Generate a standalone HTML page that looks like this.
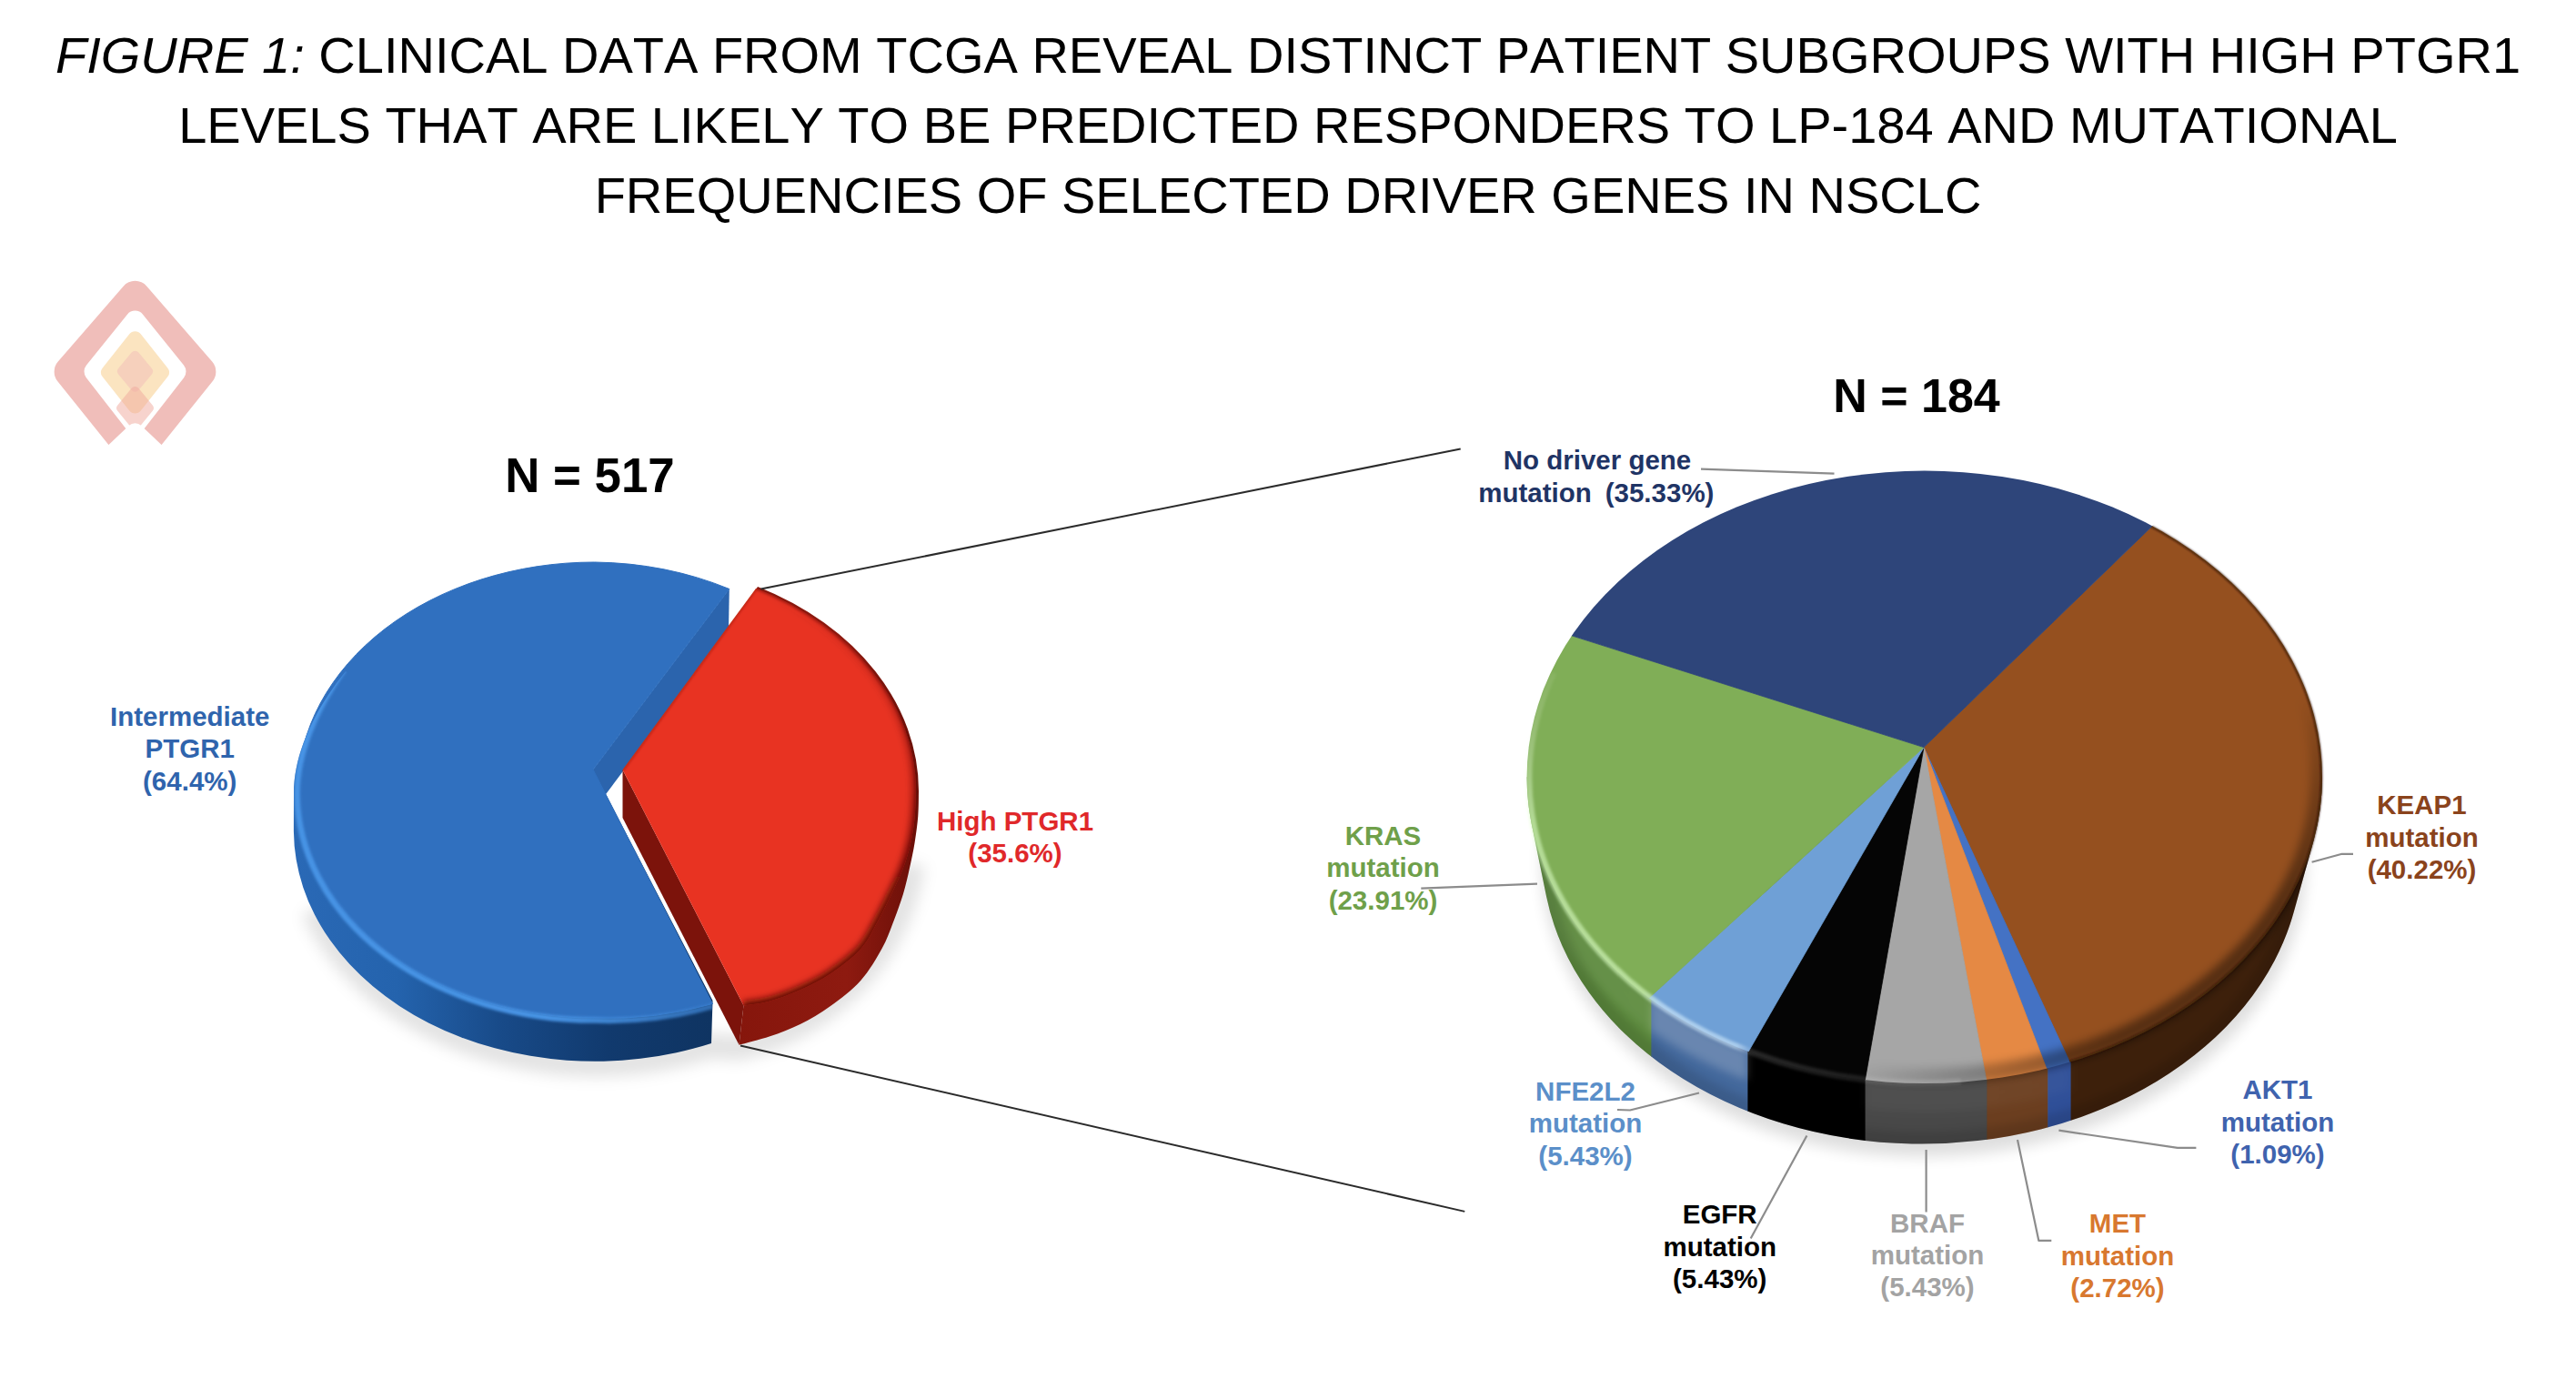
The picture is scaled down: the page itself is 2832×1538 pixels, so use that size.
<!DOCTYPE html>
<html lang="en">
<head>
<meta charset="utf-8">
<title>Figure 1</title>
<style>
html,body{margin:0;padding:0;background:#fff;}
body{width:2832px;height:1538px;position:relative;overflow:hidden;font-family:"Liberation Sans", sans-serif;}
.title{position:absolute;left:0;top:21.7px;width:2832px;text-align:center;font-size:56px;line-height:77.3px;color:#000;white-space:nowrap;font-kerning:none;}
svg{position:absolute;left:0;top:0;}
svg text{font-family:"Liberation Sans", sans-serif;}
</style>
</head>
<body>
<div class="title"><div><i>FIGURE 1:</i> CLINICAL DATA FROM TCGA REVEAL DISTINCT PATIENT SUBGROUPS WITH HIGH PTGR1</div><div>LEVELS THAT ARE LIKELY TO BE PREDICTED RESPONDERS TO LP-184 AND MUTATIONAL</div><div>FREQUENCIES OF SELECTED DRIVER GENES IN NSCLC</div></div>
<svg width="2832" height="1538" viewBox="0 0 2832 1538">
<defs>
<filter id="blur14" x="-20%" y="-20%" width="140%" height="140%"><feGaussianBlur stdDeviation="14"/></filter>
<filter id="blur3" x="-10%" y="-10%" width="120%" height="120%"><feGaussianBlur stdDeviation="3"/></filter>
<filter id="blur8" x="-20%" y="-20%" width="140%" height="140%"><feGaussianBlur stdDeviation="8"/></filter>
<filter id="blur1" x="-10%" y="-10%" width="120%" height="120%"><feGaussianBlur stdDeviation="0.8"/></filter>
<filter id="blur5" x="-10%" y="-10%" width="120%" height="120%"><feGaussianBlur stdDeviation="5"/></filter>
<filter id="blur2" x="-10%" y="-10%" width="120%" height="120%"><feGaussianBlur stdDeviation="1.6"/></filter>
<linearGradient id="gBlueWall" gradientUnits="userSpaceOnUse" x1="322" y1="0" x2="782" y2="0">
  <stop offset="0" stop-color="#2a69b6"/>
  <stop offset="0.25" stop-color="#2463ad"/>
  <stop offset="0.5" stop-color="#184a88"/>
  <stop offset="0.75" stop-color="#113a6e"/>
  <stop offset="1" stop-color="#0f3462"/>
</linearGradient>
<linearGradient id="gBlueRim" gradientUnits="userSpaceOnUse" x1="322" y1="0" x2="782" y2="0">
  <stop offset="0" stop-color="#4a98ea" stop-opacity="0.9"/>
  <stop offset="0.6" stop-color="#4a98ea" stop-opacity="0.95"/>
  <stop offset="1" stop-color="#3f86d6" stop-opacity="0.7"/>
</linearGradient>
<linearGradient id="gRedRim" gradientUnits="userSpaceOnUse" x1="0" y1="650" x2="0" y2="1000">
  <stop offset="0" stop-color="#5a0a05" stop-opacity="0"/>
  <stop offset="0.5" stop-color="#5a0a05" stop-opacity="0.35"/>
  <stop offset="1" stop-color="#5a0a05" stop-opacity="0.75"/>
</linearGradient>
<linearGradient id="gRedWall" gradientUnits="userSpaceOnUse" x1="812" y1="0" x2="1010" y2="0">
  <stop offset="0" stop-color="#86160c"/>
  <stop offset="0.6" stop-color="#8e1a10"/>
  <stop offset="1" stop-color="#6a0f08"/>
</linearGradient>
<linearGradient id="gWallShade" gradientUnits="userSpaceOnUse" x1="1678" y1="0" x2="2553" y2="0">
  <stop offset="0" stop-color="#fff" stop-opacity="0.05"/>
  <stop offset="0.157" stop-color="#fff" stop-opacity="0.06"/>
  <stop offset="0.157" stop-color="#fff" stop-opacity="0.20"/>
  <stop offset="0.278" stop-color="#fff" stop-opacity="0.20"/>
  <stop offset="0.278" stop-color="#fff" stop-opacity="0"/>
  <stop offset="0.4258" stop-color="#fff" stop-opacity="0"/>
  <stop offset="0.4258" stop-color="#fff" stop-opacity="0.04"/>
  <stop offset="0.5787" stop-color="#fff" stop-opacity="0.04"/>
  <stop offset="0.5787" stop-color="#fff" stop-opacity="0.04"/>
  <stop offset="0.684" stop-color="#fff" stop-opacity="0.03"/>
  <stop offset="0.684" stop-color="#fff" stop-opacity="0"/>
  <stop offset="1" stop-color="#fff" stop-opacity="0"/>
</linearGradient>
<linearGradient id="gRimShade" gradientUnits="userSpaceOnUse" x1="2200" y1="1041.7" x2="2302.5" y2="1164.7">
  <stop offset="0" stop-color="#000" stop-opacity="0"/>
  <stop offset="1" stop-color="#000" stop-opacity="0.42"/>
</linearGradient>
<linearGradient id="gRimHi" gradientUnits="userSpaceOnUse" x1="1215" y1="1215" x2="1618" y2="1618">
  <stop offset="0" stop-color="#fff" stop-opacity="0"/>
  <stop offset="0.2" stop-color="#ddffc8" stop-opacity="0.55"/>
  <stop offset="0.58" stop-color="#ddffc8" stop-opacity="0.6"/>
  <stop offset="0.62" stop-color="#d8f0ff" stop-opacity="0.6"/>
  <stop offset="0.78" stop-color="#d8f0ff" stop-opacity="0.55"/>
  <stop offset="0.8" stop-color="#fff" stop-opacity="0.14"/>
  <stop offset="1" stop-color="#fff" stop-opacity="0.10"/>
</linearGradient>
</defs>
<g id="logo"><path d="M63.38,419.36 A17,17 0 0 1 63.79,397.58 L135.65,314.63 A17,17 0 0 1 161.35,314.63 L233.21,397.58 A17,17 0 0 1 233.62,419.36 L161.75,508.80 A17,17 0 0 1 135.25,508.80 Z" fill="#f0beba" /><path d="M94.83,415.17 A11,11 0 0 1 94.95,401.53 L139.93,345.65 A11,11 0 0 1 157.07,345.65 L202.05,401.53 A11,11 0 0 1 202.17,415.17 L157.19,473.11 A11,11 0 0 1 139.81,473.11 Z" fill="#ffffff" /><path d="M112.75,414.37 A8,8 0 0 1 112.75,404.43 L142.23,367.29 A8,8 0 0 1 154.77,367.29 L184.25,404.43 A8,8 0 0 1 184.25,414.37 L154.77,451.51 A8,8 0 0 1 142.23,451.51 Z" fill="#fbe4c0" /><path d="M130.13,411.49 A5,5 0 0 1 130.13,405.11 L144.65,387.56 A5,5 0 0 1 152.35,387.56 L166.87,405.11 A5,5 0 0 1 166.87,411.49 L152.35,429.04 A5,5 0 0 1 144.65,429.04 Z" fill="#f6d0bc" /><path d="M129.30,451.77 A5,5 0 0 1 129.30,445.43 L144.63,426.72 A5,5 0 0 1 152.37,426.72 L167.70,445.43 A5,5 0 0 1 167.70,451.77 L152.37,470.48 A5,5 0 0 1 144.63,470.48 Z" fill="#f0a89c" opacity="0.5"/><path d="M92.77,528.76 A10,10 0 0 1 92.77,514.24 L141.63,468.01 A10,10 0 0 1 155.37,468.01 L204.23,514.24 A10,10 0 0 1 204.23,528.76 L155.37,574.99 A10,10 0 0 1 141.63,574.99 Z" fill="#ffffff" /></g>
<g id="leftpie">
<path d="M345,1000 A331,254 0 0 0 654,1170 A331,254 0 0 0 780,1150 L812,1152 C900,1132 985,1062 1003,950" fill="none" stroke="#000" stroke-opacity="0.11" stroke-width="28" filter="url(#blur8)"/>
<path d="M380,738 C346,780 323,828 323,872 L322.9,914 A331.1,254.4 0 0 0 782,1147 L783.5,1100 L652,846 Z" fill="url(#gBlueWall)"/>
<path d="M652,846 L801.8,647.5 L801,692 L652,892 Z" fill="#2b64ad"/>
<path d="M652,846 L801.8,647.5 A326.1,250.9 0 0 0 653.6,618 A326.1,250.9 0 0 0 327.5,868.9 A326.1,250.2 0 0 0 653.6,1119.1 A326.1,250.2 0 0 0 783.5,1103.5 Z" fill="#3070bf" stroke="#3070bf" stroke-width="1"/>
<clipPath id="cBlueSil"><path d="M380,738 C346,780 323,828 323,872 L322.9,914 A331.1,254.4 0 0 0 782,1147 L783.5,1100 L652,846 Z"/></clipPath>
<g clip-path="url(#cBlueSil)"><path d="M378,736 C347,780 326.5,828 326.5,872 A327.1,250.2 0 0 0 653.6,1121.6 A327.1,252.7 0 0 0 783.5,1106" fill="none" stroke="url(#gBlueRim)" stroke-width="6.5" filter="url(#blur2)"/></g>
<path d="M833,645 A324,252 0 0 1 1010,870 C1009.9,874.5 1010.0,887.7 1009.3,897.0 C1008.6,906.3 1007.2,916.2 1005.7,925.7 C1004.2,935.2 1002.1,944.8 1000.0,954.3 C997.9,963.8 995.8,973.4 992.9,982.9 C990.0,992.4 986.7,1001.5 982.9,1011.4 C979.1,1021.2 976.1,1030.9 970.0,1042.0 C963.9,1053.1 955.7,1067.3 946.2,1078.0 C936.7,1088.7 924.1,1098.0 913.0,1106.0 C901.9,1114.0 890.8,1120.5 879.7,1126.0 C868.6,1131.5 857.7,1135.5 846.5,1139.3 C835.3,1143.1 818.2,1147.2 812.5,1148.8 L817.5,1105 L700,846 Z" fill="url(#gRedWall)"/>
<path d="M684.5,846.3 L817.5,1105.5 L812.5,1148.8 L684.5,899 Z" fill="#7c130b"/>
<clipPath id="cRedTop"><path d="M684.5,846.3 L831.2,646.7 A321,250 0 0 1 1007,868 C1006.8,872.8 1006.6,887.4 1005.7,897.0 C1004.8,906.6 1003.5,916.2 1001.4,925.7 C999.3,935.2 996.5,944.8 992.9,954.3 C989.3,963.8 984.5,973.4 980.0,982.9 C975.5,992.4 971.3,1001.4 965.7,1011.4 C960.1,1021.4 955.3,1033.2 946.5,1043.0 C937.7,1052.8 924.1,1063.0 913.0,1070.5 C901.9,1078.0 890.8,1083.3 879.7,1088.3 C868.6,1093.3 856.9,1097.6 846.5,1100.5 C836.1,1103.4 822.3,1104.7 817.5,1105.5 Z"/></clipPath>
<path d="M684.5,846.3 L831.2,646.7 A321,250 0 0 1 1007,868 C1006.8,872.8 1006.6,887.4 1005.7,897.0 C1004.8,906.6 1003.5,916.2 1001.4,925.7 C999.3,935.2 996.5,944.8 992.9,954.3 C989.3,963.8 984.5,973.4 980.0,982.9 C975.5,992.4 971.3,1001.4 965.7,1011.4 C960.1,1021.4 955.3,1033.2 946.5,1043.0 C937.7,1052.8 924.1,1063.0 913.0,1070.5 C901.9,1078.0 890.8,1083.3 879.7,1088.3 C868.6,1093.3 856.9,1097.6 846.5,1100.5 C836.1,1103.4 822.3,1104.7 817.5,1105.5 Z" fill="#e83322"/>
<g clip-path="url(#cRedTop)"><path d="M831.2,646.7 A321,250 0 0 1 1007,868 C1006.8,872.8 1006.6,887.4 1005.7,897.0 C1004.8,906.6 1003.5,916.2 1001.4,925.7 C999.3,935.2 996.5,944.8 992.9,954.3 C989.3,963.8 984.5,973.4 980.0,982.9 C975.5,992.4 971.3,1001.4 965.7,1011.4 C960.1,1021.4 955.3,1033.2 946.5,1043.0 C937.7,1052.8 924.1,1063.0 913.0,1070.5 C901.9,1078.0 890.8,1083.3 879.7,1088.3 C868.6,1093.3 856.9,1097.6 846.5,1100.5 C836.1,1103.4 822.3,1104.7 817.5,1105.5 " fill="none" stroke="url(#gRedRim)" stroke-width="11" filter="url(#blur3)"/><path d="M831.2,646.7 A321,250 0 0 1 1007,868 C1006.8,872.8 1006.6,887.4 1005.7,897.0 C1004.8,906.6 1003.5,916.2 1001.4,925.7 C999.3,935.2 996.5,944.8 992.9,954.3 C989.3,963.8 984.5,973.4 980.0,982.9 C975.5,992.4 971.3,1001.4 965.7,1011.4 C960.1,1021.4 955.3,1033.2 946.5,1043.0 C937.7,1052.8 924.1,1063.0 913.0,1070.5 C901.9,1078.0 890.8,1083.3 879.7,1088.3 C868.6,1093.3 856.9,1097.6 846.5,1100.5 C836.1,1103.4 822.3,1104.7 817.5,1105.5 " fill="none" stroke="#5a0a05" stroke-opacity="0.55" stroke-width="3" filter="url(#blur2)"/><path d="M684.5,846.3 L831.2,646.7" fill="none" stroke="#7a150c" stroke-opacity="0.45" stroke-width="3" filter="url(#blur2)"/></g>
<path d="M836.6,647.6 L1605.7,493.4" stroke="#2b2b2b" stroke-width="2" fill="none"/>
<path d="M814,1149.5 L1610.3,1331.9" stroke="#2b2b2b" stroke-width="2" fill="none"/>
</g>
<g id="rightpie">
<ellipse cx="2115.0" cy="947.4" rx="420.0" ry="324.0" fill="#000" opacity="0.13" filter="url(#blur8)"/>
<clipPath id="cWall"><path d="M1678.6,854.3 A437.2,336.7 0 0 0 1684.0,907.0 L1700.1,985.8 A418.0,322.0 0 0 0 2521.8,1002.6 L2543.4,924.6 A437.2,336.7 0 0 0 2553.0,854.3 Z"/></clipPath>
<clipPath id="cTop"><ellipse cx="2115.8" cy="854.3" rx="437.2" ry="336.7"/></clipPath>
<clipPath id="cSil"><path d="M1678.6,854.3 A437.2,336.7 0 0 0 1684.0,907.0 L1700.1,985.8 A418.0,322.0 0 0 0 2521.8,1002.6 L2543.4,924.6 A437.2,336.7 0 0 0 2553.0,854.3 Z"/><ellipse cx="2115.8" cy="854.3" rx="437.2" ry="336.7"/></clipPath>
<g clip-path="url(#cWall)">
<rect x="1676.6" y="849.3" width="139.4" height="419.7" fill="#5c8a3d"/>
<rect x="1815.4" y="849.3" width="106.6" height="419.7" fill="#43689c"/>
<rect x="1921.4" y="849.3" width="129.8" height="419.7" fill="#000000"/>
<rect x="2050.6" y="849.3" width="134.4" height="419.7" fill="#484848"/>
<rect x="2184.4" y="849.3" width="67.5" height="419.7" fill="#6b3e1f"/>
<rect x="2251.3" y="849.3" width="25.9" height="419.7" fill="#2f4f98"/>
<rect x="2276.6" y="849.3" width="279.0" height="419.7" fill="#3d200b"/>
<path d="M1678.6000000000001,870.3 A437.2,336.7 0 0 0 2553.0,870.3" fill="none" stroke="url(#gWallShade)" stroke-width="30" filter="url(#blur5)"/>
<path d="M1695.0,933.4 A418.0,322.0 0 0 0 2531.0,933.4" fill="none" stroke="#000" stroke-opacity="0.12" stroke-width="22" filter="url(#blur5)"/>
</g>
<g clip-path="url(#cTop)">
<path d="M2115.0,821.6 L2761.4,195.4 L2906.0,392.3 L2992.3,620.9 L3014.0,864.2 L2969.4,1104.4 L2861.9,1323.8 L2699.3,1506.1 L2493.7,1638.0 Z" fill="#95501f" stroke="#95501f" stroke-width="0.8"/>
<path d="M2115.0,821.6 L2493.7,1638.0 L2465.1,1650.7 L2436.1,1662.4 Z" fill="#4472c4" stroke="#4472c4" stroke-width="0.8"/>
<path d="M2115.0,821.6 L2436.1,1662.4 L2359.7,1687.7 L2281.3,1706.1 Z" fill="#e58944" stroke="#e58944" stroke-width="0.8"/>
<path d="M2115.0,821.6 L2281.3,1706.1 L2119.9,1721.6 L1958.4,1707.9 Z" fill="#a6a6a6" stroke="#a6a6a6" stroke-width="0.8"/>
<path d="M2115.0,821.6 L1958.4,1707.9 L1807.3,1667.4 L1665.6,1601.3 Z" fill="#050505" stroke="#050505" stroke-width="0.8"/>
<path d="M2115.0,821.6 L1665.6,1601.3 L1551.1,1523.1 L1450.1,1428.1 Z" fill="#6fa0d6" stroke="#6fa0d6" stroke-width="0.8"/>
<path d="M2115.0,821.6 L1450.1,1428.1 L1315.8,1235.5 L1236.0,1014.7 L1215.9,780.7 L1257.1,549.5 Z" fill="#80ae57" stroke="#80ae57" stroke-width="0.8"/>
<path d="M2115.0,821.6 L1257.1,549.5 L1373.3,311.9 L1553.5,118.2 L1782.3,-14.6 L2039.8,-75.2 L2303.8,-58.4 L2551.4,34.5 L2761.4,195.4 Z" fill="#2e457a" stroke="#2e457a" stroke-width="0.8"/>
</g>
<g clip-path="url(#cSil)"><ellipse cx="2115.8" cy="850.3" rx="433.2" ry="332.7" fill="none" stroke="url(#gRimShade)" stroke-width="18" filter="url(#blur5)"/></g>
<clipPath id="cBrownW"><path d="M2115.0,821.6 L2761.4,195.4 L2906.0,392.3 L2992.3,620.9 L3014.0,864.2 L2969.4,1104.4 L2861.9,1323.8 L2699.3,1506.1 L2493.7,1638.0 Z"/></clipPath>
<g clip-path="url(#cBrownW)"><ellipse cx="2115.8" cy="854.3" rx="436.4" ry="335.9" fill="none" stroke="#2a1203" stroke-opacity="0.75" stroke-width="2.2" filter="url(#blur1)"/></g>
<path d="M1707.8,739.8 A434.2,334.7 0 0 0 2155.8,1189.0" fill="none" stroke="url(#gRimHi)" stroke-width="7" filter="url(#blur2)"/>
</g>
<g id="leaders">
<path d="M1870,515.7 L2016.5,520.7" stroke="#8c8c8c" stroke-width="2.2" fill="none" stroke-linejoin="round"/>
<path d="M1562.3,976.6 L1690,971.6" stroke="#8c8c8c" stroke-width="2.2" fill="none" stroke-linejoin="round"/>
<path d="M1778,1220 L1792,1220.5 L1868,1201.5" stroke="#8c8c8c" stroke-width="2.2" fill="none" stroke-linejoin="round"/>
<path d="M1986.4,1248.5 L1924.7,1361.5" stroke="#8c8c8c" stroke-width="2.2" fill="none" stroke-linejoin="round"/>
<path d="M2117.6,1264 L2117.6,1332.5" stroke="#8c8c8c" stroke-width="2.2" fill="none" stroke-linejoin="round"/>
<path d="M2218,1253 L2241.3,1363.8 L2255.3,1363.8" stroke="#8c8c8c" stroke-width="2.2" fill="none" stroke-linejoin="round"/>
<path d="M2263.4,1242.7 L2393.9,1261.8 L2414.4,1261.8" stroke="#8c8c8c" stroke-width="2.2" fill="none" stroke-linejoin="round"/>
<path d="M2541.6,947.7 L2574.7,938.8 L2587,938.8" stroke="#8c8c8c" stroke-width="2.2" fill="none" stroke-linejoin="round"/>
</g>
<g id="labels">
<text x="648.5" y="540.9" fill="#000" font-size="52.8" font-weight="bold" text-anchor="middle"><tspan x="648.5" y="540.9">N = 517</tspan></text>
<text x="2107" y="453.4" fill="#000" font-size="52" font-weight="bold" text-anchor="middle"><tspan x="2107" y="453.4">N = 184</tspan></text>
<text x="208.7" y="798" fill="#2f64ad" font-size="29.5" font-weight="bold" text-anchor="middle"><tspan x="208.7" y="798.0">Intermediate</tspan><tspan x="208.7" y="833.3">PTGR1</tspan><tspan x="208.7" y="868.6">(64.4%)</tspan></text>
<text x="1116" y="912.6" fill="#e0282a" font-size="29.5" font-weight="bold" text-anchor="middle"><tspan x="1116" y="912.6">High PTGR1</tspan><tspan x="1116" y="947.9">(35.6%)</tspan></text>
<text x="1756" y="515.7" fill="#1f3465" font-size="29.5" font-weight="bold" text-anchor="middle"><tspan x="1756" y="515.7">No driver gene</tspan></text>
<text x="1687.5" y="552" fill="#1f3465" font-size="29.5" font-weight="bold" text-anchor="middle"><tspan x="1687.5" y="552.0">mutation</tspan></text>
<text x="1824.6" y="552" fill="#1f3465" font-size="29.5" font-weight="bold" text-anchor="middle"><tspan x="1824.6" y="552.0">(35.33%)</tspan></text>
<text x="1520.5" y="928.9" fill="#6fa04a" font-size="29.5" font-weight="bold" text-anchor="middle"><tspan x="1520.5" y="928.9">KRAS</tspan><tspan x="1520.5" y="964.2">mutation</tspan><tspan x="1520.5" y="999.5">(23.91%)</tspan></text>
<text x="1743" y="1210" fill="#5b8fc9" font-size="29.5" font-weight="bold" text-anchor="middle"><tspan x="1743" y="1210.0">NFE2L2</tspan><tspan x="1743" y="1245.3">mutation</tspan><tspan x="1743" y="1280.6">(5.43%)</tspan></text>
<text x="1890.7" y="1345.2" fill="#000" font-size="29.5" font-weight="bold" text-anchor="middle"><tspan x="1890.7" y="1345.2">EGFR</tspan><tspan x="1890.7" y="1380.5">mutation</tspan><tspan x="1890.7" y="1415.8">(5.43%)</tspan></text>
<text x="2119" y="1354.5" fill="#a3a3a3" font-size="29.5" font-weight="bold" text-anchor="middle"><tspan x="2119" y="1354.5">BRAF</tspan><tspan x="2119" y="1389.8">mutation</tspan><tspan x="2119" y="1425.1">(5.43%)</tspan></text>
<text x="2328" y="1355.2" fill="#d8782f" font-size="29.5" font-weight="bold" text-anchor="middle"><tspan x="2328" y="1355.2">MET</tspan><tspan x="2328" y="1390.5">mutation</tspan><tspan x="2328" y="1425.8">(2.72%)</tspan></text>
<text x="2504" y="1208.4" fill="#3f63ae" font-size="29.5" font-weight="bold" text-anchor="middle"><tspan x="2504" y="1208.4">AKT1</tspan><tspan x="2504" y="1243.7">mutation</tspan><tspan x="2504" y="1279.0">(1.09%)</tspan></text>
<text x="2662.5" y="895.4" fill="#8a431c" font-size="29.5" font-weight="bold" text-anchor="middle"><tspan x="2662.5" y="895.4">KEAP1</tspan><tspan x="2662.5" y="930.7">mutation</tspan><tspan x="2662.5" y="966.0">(40.22%)</tspan></text>
</g>
</svg>
</body>
</html>
